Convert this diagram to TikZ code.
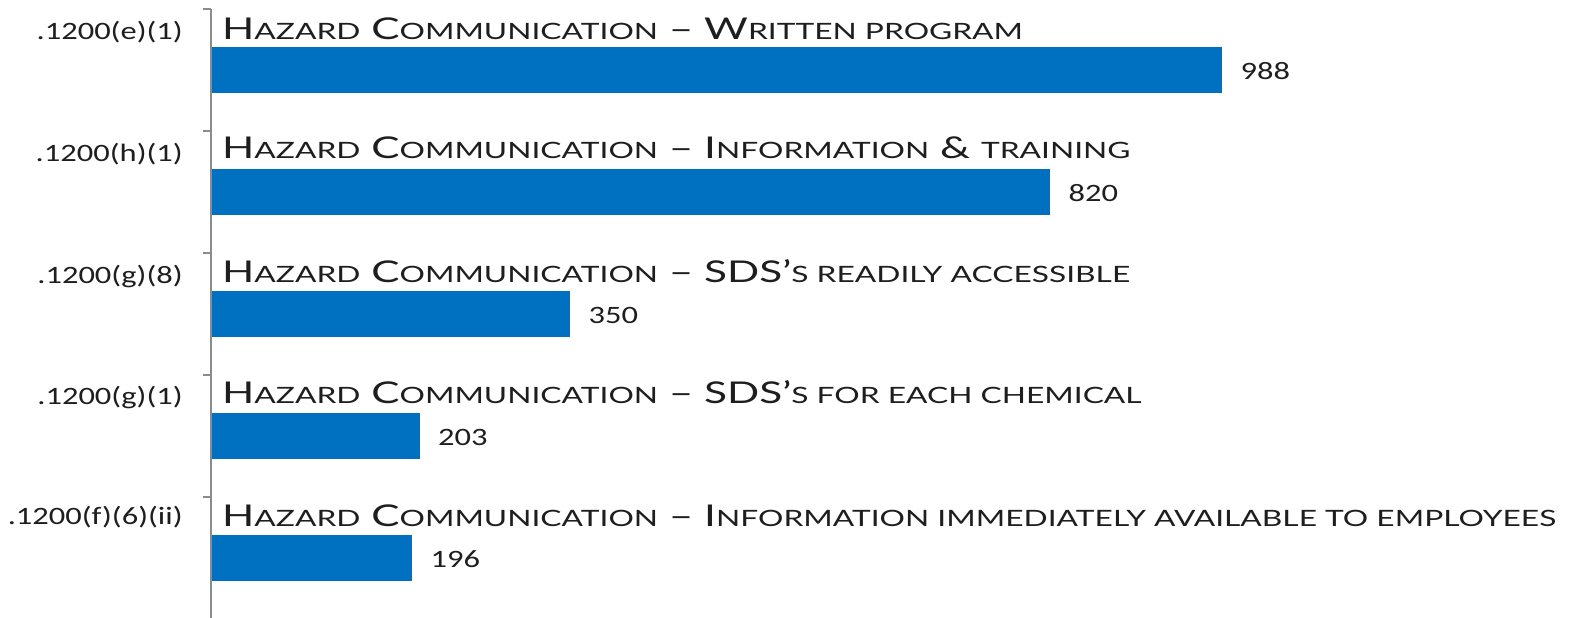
\documentclass[tikz,border=0pt]{standalone}
\usepackage{fontspec}
\setmainfont{Carlito}
\newfontfamily\titlefont{Lato}
\definecolor{barblue}{HTML}{0070C0}
\definecolor{axisgray}{HTML}{8C8C8C}
\definecolor{txt}{HTML}{1E1E1E}
\newcommand\tsc[1]{{\fontsize{22.5}{22.5}\selectfont #1}}
\newcommand\hz{H\tsc{AZARD} C\tsc{OMMUNICATION} – }
\tikzset{
  bar/.style={fill=barblue, draw=none, inner sep=0pt, minimum height=46pt, anchor=north west},
  code/.style={anchor=base east, inner sep=0pt, text=txt, font=\fontsize{25}{25}\selectfont},
  val/.style={anchor=base west, inner sep=0pt, text=txt, font=\fontsize{25}{25}\selectfont},
  ttl/.style={anchor=base west, inner sep=0pt, text=txt, font=\titlefont\fontsize{30}{30}\selectfont},
  axisline/.style={draw=axisgray, line width=1.2pt}
}
\newcommand\tw[1]{\scalebox{1.41}[1]{#1}}
\begin{document}
\begin{tikzpicture}[x=1pt,y=-1pt]
\useasboundingbox (0,0) rectangle (1572,618);
% axis
\coordinate (atop) at (211,9);
\coordinate (abot) at (211,618);
\draw[axisline] (atop) -- (abot);
\foreach \i/\yy in {0/9,1/131,2/253,3/375,4/497}{
  \coordinate (t\i) at (203,\yy);
  \coordinate (u\i) at (211,\yy);
  \draw[axisline] (t\i) -- (u\i);
}
% bars
\node[bar, minimum width=1010pt] (b1) at (212,47) {};
\node[bar, minimum width=838pt] (b2) at (212,169) {};
\node[bar, minimum width=358pt] (b3) at (212,291) {};
\node[bar, minimum width=207.5pt] (b4) at (212,413) {};
\node[bar, minimum width=200pt] (b5) at (212,535) {};
% values
\node[val] (v1) at ([xshift=18pt,yshift=14pt]b1.south east) {\scalebox{1.3}[1]{988}};
\node[val] (v2) at ([xshift=18pt,yshift=14pt]b2.south east) {\scalebox{1.3}[1]{820}};
\node[val] (v3) at ([xshift=18pt,yshift=14pt]b3.south east) {\scalebox{1.3}[1]{350}};
\node[val] (v4) at ([xshift=18pt,yshift=14pt]b4.south east) {\scalebox{1.3}[1]{203}};
\node[val] (v5) at ([xshift=18pt,yshift=14pt]b5.south east) {\scalebox{1.3}[1]{196}};
% codes
\node[code] (c1) at (183,39.5) {\scalebox{1.3}[1]{.1200(e)(1)}};
\node[code] (c2) at (183,161) {\scalebox{1.3}[1]{.1200(h)(1)}};
\node[code] (c3) at (183,283) {\scalebox{1.3}[1]{.1200(g)(8)}};
\node[code] (c4) at (183,404) {\scalebox{1.3}[1]{.1200(g)(1)}};
\node[code] (c5) at (183,524.5) {\scalebox{1.3}[1]{.1200(f)(6)(ii)}};
% titles
\node[ttl] (h1) at (222,40) {\tw{\hz W\tsc{RITTEN PROGRAM}}};
\node[ttl] (h2) at (222,158) {\tw{\hz I\tsc{NFORMATION} \& \tsc{TRAINING}}};
\node[ttl] (h3) at (222,282) {\tw{\hz SDS’\tsc{S READILY ACCESSIBLE}}};
\node[ttl] (h4) at (222,403) {\tw{\hz SDS’\tsc{S FOR EACH CHEMICAL}}};
\node[ttl] (h5) at (222,526) {\tw{\hz I\tsc{NFORMATION IMMEDIATELY AVAILABLE TO EMPLOYEES}}};
\end{tikzpicture}
\end{document}
